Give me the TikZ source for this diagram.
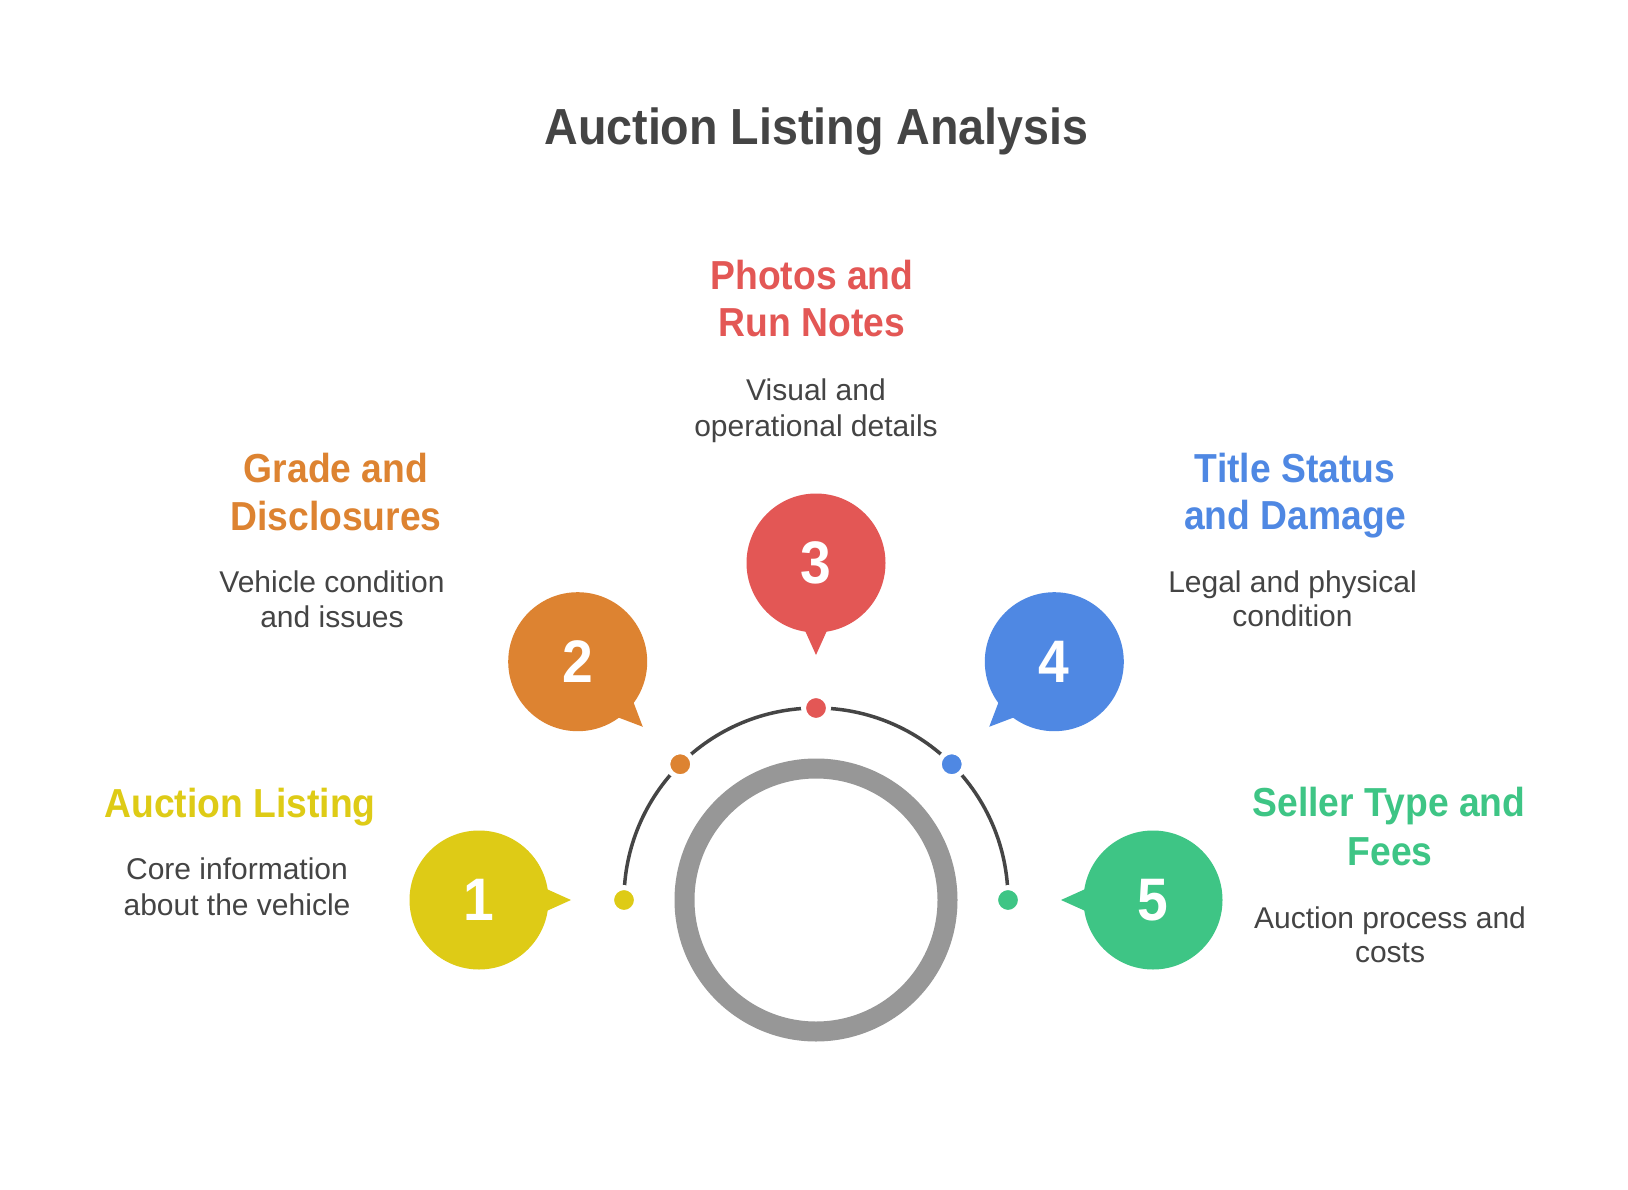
\documentclass[tikz,border=0pt]{standalone}
\usepackage{fontspec}
\setmainfont{Liberation Sans}
\newfontfamily\hfont{Liberation Sans}[FakeStretch=0.92]
\definecolor{cyel}{HTML}{DECB16}
\definecolor{cora}{HTML}{DD8331}
\definecolor{cred}{HTML}{E35755}
\definecolor{cblu}{HTML}{4F88E3}
\definecolor{cgrn}{HTML}{3EC585}
\definecolor{ctxt}{HTML}{444444}
\definecolor{cring}{HTML}{979797}
\definecolor{carc}{HTML}{454545}
\begin{document}
\begin{tikzpicture}[x=1pt,y=1pt,
  bubble/.style={circle, inner sep=0pt, minimum size=139pt, text=white, font=\hfont\bfseries\fontsize{60}{60}\selectfont},
  dotnode/.style={circle, inner sep=0pt, minimum size=25pt, draw=white, line width=5pt},
  head/.style={anchor=base, inner sep=0pt, font=\hfont\bfseries\fontsize{40.5}{48}\selectfont},
  desc/.style={anchor=base, inner sep=0pt, text=ctxt, font=\fontsize{30}{36}\selectfont},
  titlestyle/.style={anchor=base, inner sep=0pt, text=ctxt, font=\hfont\bfseries\fontsize{50.7}{60}\selectfont}
]
\fill[white] (0,0) rectangle (1628,-1190);
\useasboundingbox (0,0) rectangle (1628,-1190);
\coordinate (ctr) at (816,-900);
\node[titlestyle] (title) at (816.5,-144.5) {Auction Listing Analysis};
\draw[cring, line width=20pt] (ctr) circle (131.5);
\draw[carc, line width=3.5pt] ([shift={(180:192)}]ctr) arc[start angle=180, end angle=0, radius=192];
\foreach \a/\c/\n in {180/cyel/1, 135/cora/2, 90/cred/3, 45/cblu/4, 0/cgrn/5} {
  \node[dotnode, fill=\c] (d\n) at ([shift={(\a:192)}]ctr) {};
  \node[bubble, fill=\c] (b\n) at ([shift={(\a:337)}]ctr) {\n};
  \fill[\c] ([shift={({\a+189.5}:68)}]b\n.center) -- ([shift={({\a+180}:92)}]b\n.center) -- ([shift={({\a+170.5}:68)}]b\n.center) -- cycle;
}
\node[head, text=cyel] (h1) at (240,-817.3) {Auction Listing};
\node[desc] (t1a) at (237,-879.3) {Core information};
\node[desc] (t1b) at (237,-915.7) {about the vehicle};
\node[head, text=cora] (h2a) at (336,-482.3) {Grade and};
\node[head, text=cora] (h2b) at (336,-530) {Disclosures};
\node[desc] (t2a) at (332,-592.7) {Vehicle condition};
\node[desc] (t2b) at (332,-627.3) {and issues};
\node[head, text=cred] (h3a) at (812,-289.3) {Photos and};
\node[head, text=cred] (h3b) at (812,-336.7) {Run Notes};
\node[desc] (t3a) at (816,-400.7) {Visual and};
\node[desc] (t3b) at (816,-436) {operational details};
\node[head, text=cblu] (h4a) at (1295,-482.3) {Title Status};
\node[head, text=cblu] (h4b) at (1295,-529.3) {and Damage};
\node[desc] (t4a) at (1292.5,-592.3) {Legal and physical};
\node[desc] (t4b) at (1292.5,-626.7) {condition};
\node[head, text=cgrn] (h5a) at (1389,-816.7) {Seller Type and};
\node[head, text=cgrn] (h5b) at (1390,-865.5) {Fees};
\node[desc] (t5a) at (1390,-928.3) {Auction process and};
\node[desc] (t5b) at (1390,-962.3) {costs};
\end{tikzpicture}
\end{document}
